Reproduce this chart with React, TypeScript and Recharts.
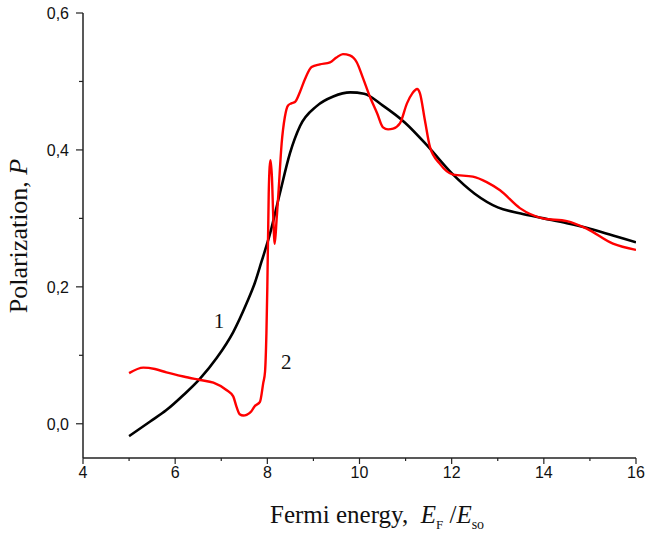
import React from "react";
import { LineChart, Line, XAxis, YAxis, ReferenceDot } from "recharts";

// curve 1 (black)
const energy1 = [5, 5.45, 5.81, 6.18, 6.54, 6.9, 7.26, 7.55, 7.73, 7.87, 8.06, 8.27, 8.49, 8.71, 9.07, 9.43, 9.8, 10.1, 10.5, 11, 11.5, 12, 12.5, 13, 13.5, 14, 14.5, 15, 15.5, 16];
const polar1 = [-0.018, 0.003, 0.02, 0.042, 0.066, 0.096, 0.134, 0.176, 0.206, 0.236, 0.278, 0.336, 0.395, 0.435, 0.464, 0.478, 0.484, 0.482, 0.465, 0.439, 0.404, 0.366, 0.336, 0.316, 0.307, 0.3, 0.293, 0.285, 0.275, 0.265];

// curve 2 (red)
const energy2 = [5, 5.31, 5.56, 5.81, 6.18, 6.54, 6.83, 7.12, 7.26, 7.33, 7.4, 7.48, 7.55, 7.65, 7.73, 7.84, 7.91, 7.95, 7.98, 8.0, 8.03, 8.05, 8.07, 8.1, 8.13, 8.16, 8.2, 8.24, 8.31, 8.38, 8.45, 8.52, 8.6, 8.71, 8.82, 8.96, 9.14, 9.36, 9.5, 9.64, 9.79, 9.94, 10.07, 10.23, 10.38, 10.51, 10.62, 10.73, 10.88, 11.03, 11.15, 11.25, 11.31, 11.42, 11.53, 11.74, 12.03, 12.46, 12.76, 13.05, 13.48, 13.98, 14.5, 14.93, 15.5, 16];
const polar2 = [0.074, 0.082, 0.08, 0.075, 0.069, 0.064, 0.06, 0.049, 0.04, 0.025, 0.014, 0.012, 0.013, 0.018, 0.026, 0.032, 0.059, 0.076, 0.132, 0.2, 0.336, 0.375, 0.385, 0.36, 0.3, 0.263, 0.297, 0.336, 0.409, 0.448, 0.465, 0.468, 0.47, 0.485, 0.504, 0.521, 0.525, 0.528, 0.535, 0.54, 0.538, 0.528, 0.506, 0.477, 0.454, 0.433, 0.43, 0.431, 0.439, 0.468, 0.483, 0.489, 0.483, 0.443, 0.404, 0.38, 0.364, 0.361, 0.353, 0.341, 0.315, 0.3, 0.296, 0.285, 0.263, 0.254];

const xTicks = [4, 5, 6, 7, 8, 9, 10, 11, 12, 13, 14, 15, 16];
const xMajor = [4, 6, 8, 10, 12, 14, 16];
const yTicks = [0, 0.1, 0.2, 0.3, 0.4, 0.5, 0.6];
const yLabels: Record<string, string> = { "0": "0,0", "0.2": "0,2", "0.4": "0,4", "0.6": "0,6" };

const curve1 = energy1.map((x, i) => ({ x, p: polar1[i] }));
const curve2 = energy2.map((x, i) => ({ x, p: polar2[i] }));

const axisColor = "#222";
const sans = "Liberation Sans, Arial, sans-serif";
const serif = "Liberation Serif, Times New Roman, serif";

function XTick(props: any) {
  const { x, y, payload } = props;
  const major = xMajor.includes(payload.value);
  return (
    <g>
      <line x1={x} x2={x} y1={y} y2={y + (major ? 6 : 3)} stroke={axisColor} strokeWidth={1.2} />
      {major && (
        <text x={x} y={y + 20} textAnchor="middle" style={{ fontFamily: sans, fontSize: 16 }} fill="#111">
          {payload.value}
        </text>
      )}
    </g>
  );
}

function YTick(props: any) {
  const { x, y, payload } = props;
  const label = yLabels[String(payload.value)];
  return (
    <g>
      <line x1={x} x2={x - (label ? 7 : 4)} y1={y} y2={y} stroke={axisColor} strokeWidth={1.2} />
      {label && (
        <text x={x - 14} y={y + 6} textAnchor="end" style={{ fontFamily: sans, fontSize: 16 }} fill="#111">
          {label}
        </text>
      )}
    </g>
  );
}

export default function App() {
  return (
    <div style={{ position: "absolute", left: 0, top: 0, width: 646, height: 535, background: "#fff" }}>
      <LineChart width={646} height={535} margin={{ top: 13, right: 10, bottom: 0, left: 0 }}>
        <XAxis
          xAxisId="b"
          type="number"
          dataKey="x"
          domain={[4, 16]}
          ticks={xTicks}
          tick={<XTick />}
          tickLine={false}
          tickSize={0}
          tickMargin={0}
          height={77}
          interval={0}
          axisLine={{ stroke: axisColor, strokeWidth: 1.5 }}
          allowDataOverflow
        />
        <XAxis xAxisId="t" orientation="top" type="number" dataKey="x" domain={[4, 16]} tick={false} tickLine={false} height={0} axisLine={{ stroke: axisColor, strokeWidth: 1.5 }} />
        <YAxis
          yAxisId="l"
          type="number"
          domain={[-0.05, 0.6]}
          ticks={yTicks}
          tick={<YTick />}
          tickLine={false}
          tickSize={0}
          tickMargin={0}
          width={83}
          interval={0}
          axisLine={{ stroke: axisColor, strokeWidth: 1.5 }}
          allowDataOverflow
        />
        <YAxis yAxisId="r" orientation="right" type="number" domain={[-0.05, 0.6]} tick={false} tickLine={false} width={0} axisLine={{ stroke: axisColor, strokeWidth: 1.5 }} />
        <Line xAxisId="b" yAxisId="l" data={curve1} dataKey="p" type="monotone" stroke="#000" strokeWidth={2.6} dot={false} isAnimationActive={false} />
        <Line xAxisId="b" yAxisId="l" data={curve2} dataKey="p" type="monotone" stroke="#ff0000" strokeWidth={2.4} dot={false} isAnimationActive={false} />
        <ReferenceDot xAxisId="b" yAxisId="l" x={6.95} y={0.151} r={0} label={{ value: "1", position: "center", fontFamily: serif, fontSize: 21, fill: "#111" }} />
        <ReferenceDot xAxisId="b" yAxisId="l" x={8.41} y={0.091} r={0} label={{ value: "2", position: "center", fontFamily: serif, fontSize: 21, fill: "#111" }} />
      </LineChart>
      <svg width={646} height={535} style={{ position: "absolute", left: 0, top: 0, pointerEvents: "none" }}>
        <text x={270} y={523} style={{ fontFamily: serif, fontSize: 25, whiteSpace: "pre" }} fill="#111">
          <tspan>{"Fermi energy,\u00a0\u00a0"}</tspan>
          <tspan fontStyle="italic">E</tspan>
          <tspan style={{ fontSize: 13 }} dy={6}>F</tspan>
          <tspan dy={-6}>{"\u00a0/"}</tspan>
          <tspan fontStyle="italic">E</tspan>
          <tspan style={{ fontSize: 14 }} dy={6}>so</tspan>
        </text>
        <text x={27} y={236} transform="rotate(-90 27 236)" textAnchor="middle" style={{ fontFamily: serif, fontSize: 26 }} fill="#111">
          <tspan>Polarization, </tspan>
          <tspan fontStyle="italic">P</tspan>
        </text>
      </svg>
    </div>
  );
}
